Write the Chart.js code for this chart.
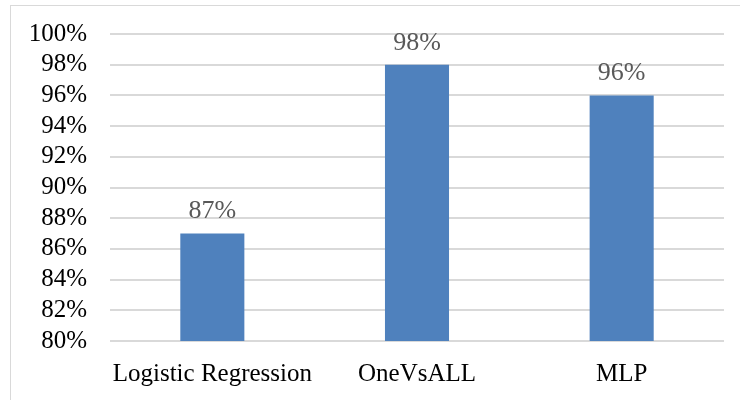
<!DOCTYPE html>
<html>
<head>
<meta charset="utf-8">
<script src="https://cdn.jsdelivr.net/npm/chart.js@4.4.0/dist/chart.umd.min.js"></script>
<style>
html,body{margin:0;padding:0;background:#fff;}
#wrap{position:relative;width:740px;height:400px;overflow:hidden;}
#frame{position:absolute;left:10px;top:5px;width:740px;height:420px;border:1px solid #d9d9d9;box-sizing:border-box;}
canvas{position:absolute;left:0;top:0;}
</style>
</head>
<body>
<div id="wrap">
<div id="frame"></div>
<canvas id="c" width="740" height="400"></canvas>
</div>
<script>
const categories = ["Logistic Regression", "OneVsALL", "MLP"];
const accuracy = [87, 98, 96];
const yMin = 80, yMax = 100, yStep = 2;

const FONT = "'Liberation Serif', 'Times New Roman', serif";

const dataLabels = {
  id: 'dataLabels',
  afterDatasetsDraw(chart) {
    const ctx = chart.ctx;
    const meta = chart.getDatasetMeta(0);
    ctx.save();
    ctx.font = "26px " + FONT;
    ctx.fillStyle = "#595959";
    ctx.textAlign = "center";
    ctx.textBaseline = "middle";
    meta.data.forEach((bar, i) => {
      ctx.fillText(accuracy[i] + "%", bar.x, bar.y - 22);
    });
    ctx.restore();
  }
};

new Chart(document.getElementById('c'), {
  type: 'bar',
  data: {
    labels: categories,
    datasets: [{
      data: accuracy,
      backgroundColor: '#4f81bd',
      borderWidth: 0,
      barPercentage: 0.313,
      categoryPercentage: 1.0
    }]
  },
  options: {
    responsive: false,
    animation: false,
    layout: { padding: { top: 34, right: 16, bottom: 0, left: 0 } },
    plugins: { legend: { display: false }, tooltip: { enabled: false } },
    scales: {
      x: {
        grid: { display: false, drawTicks: false },
        border: { display: false },
        ticks: { color: '#000', font: { family: FONT, size: 25 }, padding: 18, maxRotation: 0, autoSkip: false },
        afterFit: s => { s.height = 59; s.paddingLeft = 0; s.paddingRight = 0; }
      },
      y: {
        min: yMin, max: yMax,
        grid: { color: '#d9d9d9', lineWidth: 2, drawTicks: false },
        border: { display: false },
        ticks: { stepSize: yStep, color: '#000', font: { family: FONT, size: 25 }, padding: 23, autoSkip: false,
          callback: v => v + '%' },
        afterFit: s => { s.width = 110; s.paddingTop = 0; s.paddingBottom = 0; }
      }
    }
  },
  plugins: [dataLabels]
});
</script>
</body>
</html>
